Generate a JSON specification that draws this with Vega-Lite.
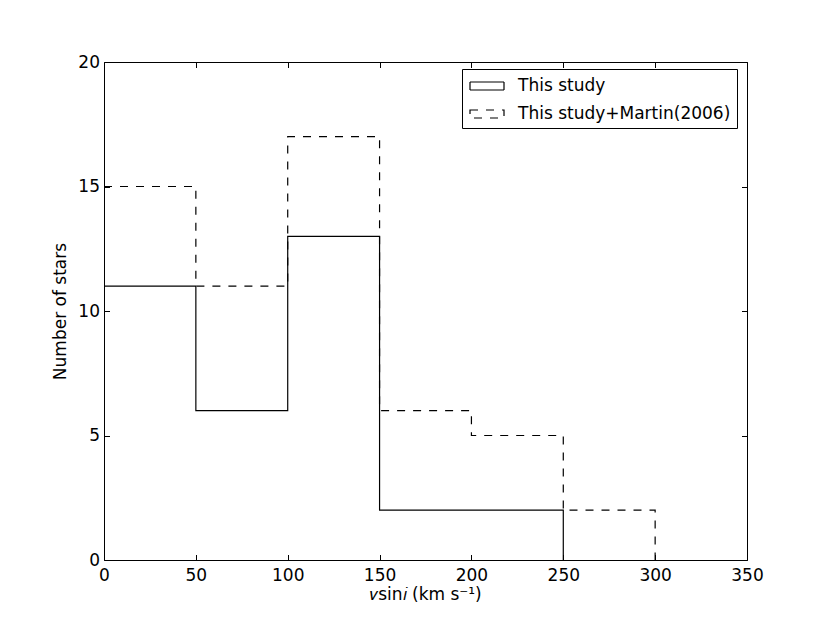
{
  "$schema": "https://vega.github.io/schema/vega-lite/v6.json",
  "width": 643,
  "height": 498,
  "autosize": {"type": "none"},
  "padding": {"left": 104, "top": 62, "right": 83, "bottom": 63},
  "background": "white",
  "config": {
    "font": "DejaVu Sans",
    "view": {"stroke": "black", "strokeWidth": 1},
    "axis": {
      "grid": false,
      "domain": false,
      "tickColor": "black",
      "tickSize": -5.5,
      "tickWidth": 1,
      "labelFlush": false,
      "labelFont": "DejaVu Sans",
      "labelFontSize": 17,
      "labelColor": "black",
      "titleFont": "DejaVu Sans",
      "titleFontSize": 17,
      "titleFontWeight": "normal",
      "titleColor": "black"
    }
  },
  "data": {
    "values": [
      {"v": 0, "n": 11, "series": "This study"},
      {"v": 50, "n": 6, "series": "This study"},
      {"v": 100, "n": 13, "series": "This study"},
      {"v": 150, "n": 2, "series": "This study"},
      {"v": 200, "n": 2, "series": "This study"},
      {"v": 250, "n": 0, "series": "This study"},
      {"v": 0, "n": 15, "series": "This study+Martin(2006)"},
      {"v": 50, "n": 11, "series": "This study+Martin(2006)"},
      {"v": 100, "n": 17, "series": "This study+Martin(2006)"},
      {"v": 150, "n": 6, "series": "This study+Martin(2006)"},
      {"v": 200, "n": 5, "series": "This study+Martin(2006)"},
      {"v": 250, "n": 2, "series": "This study+Martin(2006)"},
      {"v": 300, "n": 0, "series": "This study+Martin(2006)"}
    ]
  },
  "layer": [
    {
      "mark": {"type": "line", "interpolate": "step-after", "color": "black", "strokeWidth": 1.2},
      "encoding": {
        "x": {
          "field": "v", "type": "quantitative",
          "scale": {"domain": [0, 350], "nice": false},
          "axis": {"values": [0, 50, 100, 150, 200, 250, 300, 350], "title": "𝑣sin𝑖 (km s⁻¹)", "labelPadding": 13, "titlePadding": 3, "orient": "bottom"}
        },
        "y": {
          "field": "n", "type": "quantitative",
          "scale": {"domain": [0, 20], "nice": false},
          "axis": {"values": [0, 5, 10, 15, 20], "title": "Number of stars", "labelPadding": 10, "titlePadding": 8, "orient": "left"}
        },
        "strokeDash": {
          "field": "series", "type": "nominal",
          "scale": {"domain": ["This study", "This study+Martin(2006)"], "range": [[1, 0], [8, 8]]},
          "legend": {
            "title": null,
            "orient": "none",
            "legendX": 358,
            "legendY": 7,
            "labelFontSize": 17,
            "labelFont": "DejaVu Sans",
            "labelColor": "black",
            "labelLimit": 0,
            "labelOffset": 20,
            "labelExpr": "datum.label + '\u2003'",
            "symbolType": "M-1.7,-0.4H1.7V0.4H-1.7Z",
            "symbolSize": 400,
            "symbolOffset": 8,
            "symbolStrokeColor": "black",
            "symbolFillColor": "transparent",
            "symbolStrokeWidth": 1.2,
            "strokeColor": "black",
            "fillColor": "white",
            "padding": 6,
            "rowPadding": 9,
            "cornerRadius": 0
          }
        }
      }
    },
    {
      "mark": {"type": "line", "opacity": 0},
      "encoding": {
        "x": {"field": "v", "type": "quantitative", "axis": {"orient": "top", "values": [0, 50, 100, 150, 200, 250, 300, 350], "labels": false, "title": null}},
        "y": {"field": "n", "type": "quantitative", "axis": {"orient": "right", "values": [0, 5, 10, 15, 20], "labels": false, "title": null}}
      }
    }
  ],
  "resolve": {"axis": {"x": "independent", "y": "independent"}}
}
